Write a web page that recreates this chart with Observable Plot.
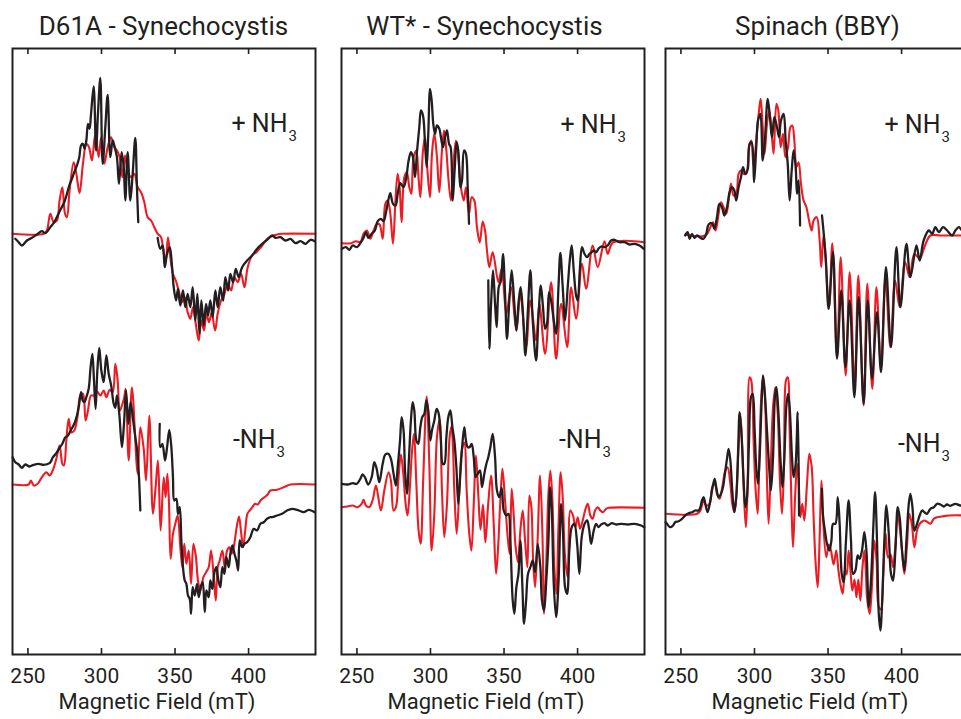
<!DOCTYPE html>
<html><head><meta charset="utf-8">
<script src="https://cdn.jsdelivr.net/npm/d3@7"></script>
<script src="https://cdn.jsdelivr.net/npm/@observablehq/plot@0.6"></script>
<style>
html,body{margin:0;padding:0;background:#fff;overflow:hidden;}
#wrap{position:relative;width:961px;height:719px;overflow:hidden;font-family:Roboto,"Open Sans",sans-serif;color:#231f20;}
.panel{position:absolute;top:0;width:323px;height:719px;}
.title{position:absolute;top:13px;left:0;right:0;text-align:center;font-size:26px;line-height:26px;white-space:nowrap;}
.panel svg{position:absolute;left:0;top:40px;}
</style></head><body><div id="wrap"></div>
<script>
// ---------- text ----------
const panelTitles = ["D61A - Synechocystis", "WT* - Synechocystis", "Spinach (BBY)"];
const conditionLabels = ["+ NH", "-NH"];
const subscriptLabel = "3";
const axisLabel = "Magnetic Field (mT)";
const fieldTicks = [250, 300, 350, 400];
const fieldDomain = [239.5, 445.5];
const intensityDomain = [0, 606];

// ---------- data: [field (mT), intensity (a.u., offset stacked)] ; null = gap ----------
const d61aPlusExp = [[241.4,415.7],[243.7,412.3],[245.9,409],[249.3,414],[252.7,416.7],[256.1,420],[259.5,423.3],[261.8,421.3],[265.2,427.3],[267.9,432.3],[270.2,439],[272.4,445.7],[274.7,452.3],[276.5,460.7],[278.1,469],[279.9,475.7],[281.5,482.3],[283.3,489],[284.9,497.3],[286.1,509],[287.4,510.7],[288.5,505.7],[289.7,514],[290.8,530.7],[291.9,525.7],[292.9,540.7],[294.7,568],[296.3,504],[297.6,540.7],[299.2,576.7],[300.8,490.7],[302.6,527.3],[304.2,559.7],[306,497.3],[307.6,514],[309,507.3],[310.5,497.3],[311.9,470.7],[313.7,502.3],[315.1,487.3],[316.2,454],[317.8,502.3],[319.6,454],[321.2,480.7],[323,516.7],[324.1,467.3],[325,432.3],[331,null],[338.2,416.7],[340,405.7],[341.6,409],[343,387.3],[344.6,400.7],[346.4,407.3],[348,387.3],[349.1,367.3],[350.7,354],[352,365.7],[353.6,349],[355.4,364],[357,347.3],[358.6,360.7],[360.4,347.3],[362,367.3],[363.8,334],[365.2,360.7],[366.6,320.7],[367.9,354],[369.5,329],[371.1,350.7],[372.4,339],[374,354],[375.6,337.3],[377.4,364],[379,347.3],[380.8,367.3],[382.7,354],[384.2,377.3],[386.1,364],[387.6,380.7],[389.5,372.3],[391.3,385.7],[393.3,377.3],[395.6,387.3],[399,394],[402.4,399],[405.8,405.7],[409.2,410.7],[412.6,414.7],[416,419],[418.3,416.7],[421.7,417.3],[425.1,414],[428.5,415.7],[431.9,411.3],[435.3,413.3],[438.7,410.7],[442.1,414.7],[445,413.3]];
const d61aPlusSim = [[239.6,420.7],[260.7,420.7],[262.9,424],[265.2,440.7],[267.5,432.3],[269.7,434],[271.5,454],[273.4,467.3],[275.2,440.7],[276.5,437.3],[278.3,464],[281.1,492.3],[282.9,480.7],[285.1,461.3],[287.4,490.7],[289.7,510.7],[291.5,507.3],[293.5,494],[295.8,520.7],[298.1,497.3],[299.7,517.3],[301.9,490.7],[304.2,507.3],[306.5,517.3],[308.7,507.3],[310.5,504],[312.4,497.3],[314.2,477.3],[316,499],[317.8,484],[320.1,477.3],[322.3,480.7],[324.6,467.3],[326.9,462.3],[329.1,452.3],[331.4,437.3],[333.7,434],[335.9,427.3],[338.2,420.7],[340.5,417.3],[342.3,400.7],[343.7,394],[345.2,417.3],[346.8,397.3],[348.6,380.7],[350.5,374],[352.5,364],[354.8,352.3],[356.6,357.3],[358.6,342.3],[360.4,335.7],[362.2,347.3],[364.1,330.7],[366.1,314],[367.9,334],[369.7,324],[371.3,340.7],[373.1,332.3],[374.9,342.3],[377.2,324],[379,340.7],[381.3,354],[383.6,360.7],[385.8,370.7],[388.1,364],[390.4,377.3],[392.6,372.3],[394.9,380.7],[397.2,367.3],[399.4,387.3],[402.4,399],[405.3,402.3],[408.5,407.3],[412.1,414.7],[415.3,418],[419.4,420],[422.8,420.7],[445.4,420.7]];
const d61aMinusExp = [[239.6,197.3],[241.4,192.3],[243.7,190],[245.9,186.7],[248.2,190],[251.1,188],[253.9,189.7],[257.3,190.7],[260.7,189.7],[264.7,191.3],[267,197.3],[269.3,201.3],[271.5,206.7],[273.4,210.7],[275.2,216.7],[277.2,219],[279.3,224.7],[281.5,230.7],[283.3,239],[284.7,249],[286.1,262.3],[287.2,254],[288.3,252.3],[289.7,257.3],[291.3,265.7],[292.6,287.3],[293.8,300.7],[294.9,274],[296,245.7],[297.2,284],[298.5,306.7],[299.9,284],[301.5,272.3],[303.3,299],[304.9,280.7],[306.7,268],[308.3,250.7],[309.4,246.7],[310.5,259],[312.1,240.7],[313.9,207.3],[315.3,230.7],[316.7,264],[318.3,230.7],[319.8,252.3],[321.4,235.7],[323,217.3],[324.4,202.3],[325.5,177.3],[326.4,144],[333,null],[339.6,230.7],[340,207.3],[341.4,210.7],[343.2,194],[344.6,207.3],[346.1,224.7],[347.5,207.3],[348.6,177.3],[349.5,154],[350.9,155.7],[352,140.7],[353.2,147.3],[354.3,114],[355.4,87.3],[356.6,74],[357.7,70.7],[358.8,59],[360,55.7],[360.9,40.7],[362,67.3],[363.4,59],[365,70.7],[366.1,57.3],[367.7,69],[368.8,72.3],[370.2,42.3],[371.3,64],[372.9,57.3],[374,74],[375.4,65.7],[376.8,82.3],[378.1,87.3],[379.5,74],[380.8,67.3],[382.2,87.3],[383.6,80.7],[384.9,97.3],[386.5,87.3],[387.6,100.7],[389,109],[390.4,100.7],[391.7,94],[392.9,84],[394,114],[395.6,107.3],[397.2,110.7],[399,112.3],[401.2,117.3],[403.5,125.7],[405.8,124],[408,130.7],[410.3,132.3],[412.6,135.7],[414.8,137.3],[416,137.3],[419.4,139],[422.8,140.7],[426.2,144],[429.6,145.7],[434.1,144],[437.5,142.3],[440.9,144.7],[445,142.3]];
const d61aMinusSim = [[239.6,170],[250.5,170],[252,174],[253.9,169],[256.6,170.7],[259.5,177.3],[262.5,182.3],[264.7,179],[267,184.7],[269.3,195.7],[271.5,209],[273.4,190.7],[274.5,189],[276.1,214],[277.7,235.7],[279.5,222.3],[281.5,224],[283.8,239],[285.6,259],[287.4,260.7],[289.2,234],[290.8,244],[292.9,259],[295.1,259],[296.9,263.3],[299.2,259],[301.5,264],[303.3,257.3],[305.6,264.7],[307.6,262.3],[309.4,290.7],[311,274],[312.4,244],[313.9,249],[315.5,257.3],[316.4,265.7],[318.5,194],[320.7,267.3],[324.6,180.7],[326.4,227.3],[328.7,205.7],[330.3,174],[332.5,239],[335,140.7],[336.8,167.3],[338.4,194],[340.2,124],[342.3,177.3],[343.6,157.3],[344.8,180.7],[345.9,150.7],[347,95.7],[348.6,120.7],[350.2,130.7],[351.8,139],[353.6,107.3],[355,87.3],[356.3,110.7],[357.7,90.7],[359.3,104],[360.9,70.7],[362.5,110.7],[364.1,99],[365.6,74],[367.2,64],[369.3,77.3],[371.1,82.3],[372.9,87.3],[374.5,104],[376.3,77.3],[377.7,54],[379,87.3],[380.4,94],[382.2,104],[383.8,87.3],[385.4,104],[387,107.3],[388.5,100.7],[390.1,109],[391.9,127.3],[393.5,138],[394.9,122.3],[396.3,107.3],[397.6,122.3],[399.2,140.7],[400.8,144],[402.6,147.3],[404.4,150.7],[406.2,150],[408.5,154.7],[410.8,157.3],[413,160],[414.8,164],[419.4,164.7],[423.9,167.3],[428.5,170],[445.4,170]];

const wtPlusExp = [[239.8,405.7],[242.5,407.3],[244.8,404.7],[247.1,409],[250,407.3],[252.3,411.3],[254.5,416.7],[256.1,422.3],[257.7,416.7],[260,420.7],[262.2,424],[264.1,433.3],[266.3,435.7],[268.1,433.3],[270,444],[271.3,454],[272.7,461.3],[274.5,450.7],[276.3,449],[277.7,460.7],[279.5,471.3],[281.7,467.3],[283.6,477.3],[285.1,494],[286.7,502.3],[288.1,497.3],[289.5,477.3],[290.8,502.3],[292.4,527.3],[293.5,544],[294.9,539],[296.3,510.7],[297.4,487.3],[298.5,520.7],[299.7,565.7],[300.8,554],[301.9,530.7],[303.1,520.7],[304.4,529],[306,525.7],[307.1,517.3],[308.5,507.3],[309.9,517.3],[311.2,524],[312.6,510.7],[313.7,507.3],[315.1,454],[316.4,484],[317.8,512.3],[318.9,504],[320.3,467.3],[321.4,474],[322.8,504],[324.1,500.7],[325.3,467.3],[326.2,430.7],[333,null],[339.3,374],[340,305.7],[341.2,350.7],[342.5,384],[343.9,350.7],[345,327.3],[346.4,367.3],[347.9,374],[349.3,400.7],[350.7,360.7],[352,315.7],[353.6,354],[355.2,384],[357,350.7],[358.4,324],[360,354],[361.3,367.3],[362.9,340.7],[364.5,299],[366.1,340.7],[367.9,384],[369.5,334],[371.8,294],[373.4,337.3],[375,369],[376.5,347.3],[377.9,325.7],[379.2,330.7],[380.6,362.3],[382.2,352.3],[383.8,334],[385.4,320.7],[387,367.3],[388.3,401.7],[389.9,367.3],[391.5,334],[393.3,367.3],[394.7,394],[396,409],[397.4,384],[399,359],[400.1,354],[401.5,384],[403,407.3],[404.7,400.7],[406.5,397.3],[408.1,400.7],[409.6,402.3],[411,404],[412.6,402.3],[414.2,405.7],[416,408],[418.3,407.3],[420.5,409],[422.8,414],[425.1,414.7],[428.5,412.3],[431.9,412.3],[435.3,410],[438.7,410.7],[442.1,409],[445,405.7]];
const wtPlusSim = [[239.8,411.3],[245.9,411.3],[249.3,413.3],[252.3,412.3],[254.5,420.7],[256.8,424],[259.1,415.7],[261.3,424],[263.6,430.7],[265.4,430],[267.5,415.7],[269.3,450.7],[270.9,454],[272.7,440.7],[274.5,410.7],[276.3,457.3],[277.7,480.7],[279,467.3],[280.4,432.3],[282.2,477.3],[283.9,482.3],[285.6,467.3],[287,460.7],[288.5,497.3],[290.4,504],[291.7,480.7],[293.1,457.3],[294.9,504],[296.3,517.3],[298.1,480.7],[299.7,457.3],[301,500.7],[302.6,520.7],[304.4,497.3],[306,462.3],[307.8,504],[309.2,524],[310.8,504],[312.1,477.3],[313.9,454],[315.8,494],[317.3,514],[318.9,497.3],[320.7,467.3],[322.6,454],[324.1,467.3],[326.2,440.7],[328,457.3],[329.8,454],[331.6,427.3],[333.5,412],[335.5,433],[337.1,424],[338.4,404],[340,387.3],[342.3,402.3],[346.2,372.3],[348.4,385.7],[351.6,340.7],[354.8,367.3],[358.4,324],[361.1,360.7],[365,307.3],[367.9,354],[371.8,314],[374,350.7],[377.9,300.7],[382,372.3],[385.4,295.7],[388.8,350.7],[392.9,307.3],[395.6,367.3],[399,335.7],[403,390.7],[405.8,365.7],[410.3,409],[413.7,387.3],[418.3,413.3],[420.5,400.7],[424,412],[445.4,412.3]];
const wtMinusExp = [[239.8,170.7],[243.7,170],[247.1,171.3],[250,170.7],[252.3,175.7],[253.9,180],[255.4,177.3],[257.7,170],[260,177.3],[261.8,192.3],[263.4,185.7],[265.2,172.3],[267.5,190.7],[269.3,200],[271.3,200.7],[273.1,195.7],[274.9,180.7],[276.5,169],[277.7,187.3],[279.3,214],[280.4,237.3],[281.7,224],[282.7,184],[284,160.7],[285.4,197.3],[286.7,234],[287.9,252.3],[289,244],[290.4,214],[291.7,210.7],[293.1,227.3],[294.4,237.3],[295.8,240.7],[297.2,254],[298.5,244],[299.9,214],[301,224],[302.6,234],[304.2,245.7],[305.6,240.7],[307.1,214],[308.3,190.7],[309.4,190.7],[310.8,217.3],[312.1,237.3],[313.5,244],[314.9,227.3],[316.2,214],[317.6,187.3],[318.9,150.7],[320.3,180.7],[321.7,210.7],[323,227.3],[324.1,214],[325.3,207.3],[326.6,207.3],[328,210.7],[329.4,197.3],[330.7,177.3],[332.1,180.7],[333.7,184],[335,167.3],[336.6,180.7],[338,190.7],[339.3,197.3],[340.7,207.3],[342.3,220.7],[343.9,197.3],[345.2,164],[346.8,157.3],[348.4,166.7],[349.8,144],[351.6,139],[353,140.7],[354.3,114],[355.9,54],[357,40.7],[358.4,67.3],[359.8,80.7],[361.1,114],[362.5,67.3],[363.6,30.7],[365,54],[366.3,80.7],[367.9,87.3],[369.5,94],[371.1,82.3],[372.9,110.7],[374.7,87.3],[375.8,54],[377.2,44],[378.6,70.7],[380.2,114],[381.3,167.3],[382.4,147.3],[383.8,70.7],[385.4,37.3],[387,70.7],[388.8,150.7],[390.1,120.7],[391.5,67.3],[392.9,60.7],[394.4,104],[396,127.3],[397.8,130.7],[399.7,110.7],[401.2,80.7],[402.8,117.3],[404.6,130],[406.5,134],[407.8,125.7],[409.2,110.7],[411,124],[412.6,130.7],[414.2,127.3],[416,130],[418.3,131.3],[420.5,129],[423.2,131.3],[426.2,130],[429.6,130.7],[434.1,130],[438.7,130.7],[443.2,129],[445.4,127.3]];
const wtMinusSim = [[239.6,147.3],[243.6,148],[247,149],[250.4,147.3],[253.2,150.7],[254.5,154.7],[256.1,149],[258.4,147.3],[260.6,154],[262.9,169],[264.5,157.3],[266.3,144],[268.6,164],[271.5,182.3],[273.1,174],[274.9,144],[276.5,147.3],[278.1,174],[279.9,200],[281.5,180.7],[283.1,150.7],[284.4,139],[286,167.3],[287.4,202.3],[288.8,220.7],[290.3,174],[291.9,124],[293.3,110.7],[295.1,177.3],[297.4,258],[299.2,190.7],[300.8,104],[302.6,140.7],[304.4,217.3],[306.2,235],[307.8,164],[309.4,117.3],[311.2,150.7],[313,217.3],[314.2,228],[315.2,210],[316.2,164],[317.8,120.7],[319.6,164],[321.4,205],[323,212],[324.6,164],[326.2,124],[327.8,104],[329.4,150],[330.9,199],[332.5,160],[334,125],[335.7,150],[337.3,112],[339.2,150],[341.2,179],[343,130],[344.6,80.7],[346.1,110.7],[347.5,154],[348.9,185.7],[350.7,154],[352.5,117.3],[353.8,100.7],[355.2,165.7],[356.6,139],[357.9,107.3],[359.5,92.3],[361.1,124],[362.7,144],[364.3,114],[365.9,87.3],[367.2,159],[368.6,147.3],[369.7,97.3],[371.1,67.3],[372.9,117.3],[374.5,179],[376.1,120.7],[377.2,40.7],[378.6,87.3],[380.2,160.7],[381.5,184],[382.9,154],[384.2,87.3],[385.6,60.7],[387,127.3],[388.5,182.3],[389.9,157.3],[391.5,97.3],[393.3,77.3],[395.1,144],[396.9,139],[398.5,127.3],[400.1,137.3],[401.7,125.7],[403.5,134],[405.1,144],[406.9,150.7],[408.7,139],[410.3,135.7],[411.9,144],[413.7,147.3],[415.5,144],[417.3,142.3],[419.4,145.7],[421.6,146.7],[445.4,146.7]];

const bbyPlusExp = [[252.9,419],[254.5,422.3],[255.9,415.7],[257.5,420.7],[259.1,416.7],[260.9,419],[263.2,416.7],[265.4,415.7],[267.2,420.7],[268.8,430],[271.1,431.3],[272.7,425.7],[274.5,437.3],[276.1,450.7],[277.9,447.3],[279.5,439],[281.3,447.3],[283.1,462.3],[284.7,467.3],[286.3,464],[287.6,454],[289.2,467.3],[290.8,477.3],[292.2,487.3],[293.8,480.7],[295.4,485.3],[296.7,510.7],[298.1,512.3],[299.7,472.3],[301.2,507.3],[302.4,534],[304,540.7],[305.6,494],[306.9,510.7],[309,555.7],[310.5,537.3],[311.9,517.3],[313.5,537.3],[315.3,527.3],[316.7,517.3],[318,534],[319.8,540.7],[321.2,514],[322.6,490.7],[323.9,454],[325.3,484],[326.6,504],[328,487.3],[328.9,460.7],[330,474],[331,429],[338,null],[345.9,439],[347.1,420.7],[348.5,395],[350.4,345.7],[353.4,402.3],[356.1,295.7],[359,364],[361.8,287.3],[364.7,354],[367.9,257.3],[370.8,357.3],[374.2,250.7],[377,354],[379.9,275.7],[383.3,342.3],[386,282.3],[389.4,387.3],[392.8,307.3],[396.5,407.3],[399.2,347.3],[403.3,410.7],[406,377.3],[410.1,409],[412.3,394],[415,414],[418.5,424],[420.8,420.7],[423,427.3],[425.3,422.3],[428.2,427.3],[431,424],[434.4,419],[436.6,424],[438.9,427.3],[441.2,424],[443.4,422.3],[445.4,422]];
const bbyPlusSim = [[252.9,420],[266.6,419],[270,427.3],[271.8,432.3],[273.6,424],[275.6,440.7],[277.2,452.3],[279,447.3],[280.8,440.7],[282.7,457.3],[284,470.7],[285.8,459],[287.6,460.7],[289.2,480.7],[290.8,484],[292.6,480.7],[294.4,480.7],[296.3,507.3],[297.8,514],[299.4,487.3],[301.2,514],[303.1,544],[304.2,555.7],[305.6,527.3],[306.9,500.7],[308.5,530.7],[310.1,544],[311.7,520.7],[313,500.7],[314.9,550.7],[316.2,544],[317.8,507.3],[319.4,520.7],[321,497.3],[322.8,507.3],[324.4,527.3],[325.7,529],[327.1,514],[328.5,487.3],[330,492.3],[331.6,470.7],[333.4,454],[335.3,447.3],[337.1,434],[338.9,424],[340.2,434],[342.3,437.3],[344.3,414],[345.4,387.3],[347,419],[350.7,347.3],[352.9,411.3],[356.1,297.3],[358.6,397.3],[362,279],[364.7,382.3],[368.1,267.3],[370.6,379],[374.2,249],[376.7,370.7],[380.1,265.7],[382.9,367.3],[386,287.3],[389,375.7],[392.4,307.3],[395.6,374],[398.7,347.3],[402.4,392.3],[405.5,377.3],[408.7,400.7],[412.3,395.7],[415.5,407.3],[419.6,419],[426.4,419],[445.4,419]];
const bbyMinusExp = [[239.6,132.3],[240.5,130.7],[242.7,127.3],[244.6,129],[246.1,132.3],[248.4,133.3],[250.7,135.7],[252.9,139],[255.2,141.3],[257.5,142.3],[259.8,144],[262,144],[263.2,147.3],[264.3,154],[265.4,157.3],[266.8,149],[268.1,142.3],[270,154],[271.3,165.7],[272.9,175.7],[274,167.3],[275.6,157.3],[277.2,160.7],[278.6,167.3],[279.9,180.7],[281.3,195.7],[282.4,205.7],[283.6,194],[284.9,164],[286.3,142.3],[287.6,157.3],[288.8,200.7],[289.9,242.3],[291.3,217.3],[292.6,174],[293.8,147.3],[294.9,157.3],[296.3,214],[297.6,257.3],[298.8,260.7],[300.1,224],[301.2,187.3],[302.4,170.7],[303.5,197.3],[304.9,254],[305.8,279],[306.9,264],[308.5,224],[310.1,184],[311.2,164],[312.6,197.3],[313.9,257.3],[314.9,267.3],[316.2,244],[317.6,197.3],[319,167.3],[320.3,197.3],[321.7,249],[322.8,260.7],[323.9,247.3],[325.5,197.3],[326.6,177.3],[328,190.7],[329.4,242.3],[330.3,139],[338,null],[345.9,165.7],[346.6,139],[348.2,120.7],[349.3,110.7],[350.9,104],[352.3,114],[353.4,130.7],[355,130.7],[356.6,157.3],[357.9,130.7],[359.3,80.7],[360.6,72.3],[362.2,114],[364,154],[365.6,114],[367,80.7],[368.6,84],[370.2,99],[371.5,95.7],[373.1,104],[374.7,122.3],[376.1,104],[377.7,47.3],[379.2,74],[380.6,120.7],[382,162.3],[383.3,114],[384.5,40.7],[385.6,24],[387,60.7],[388.3,114],[389.7,149],[391.3,120.7],[392.8,80.7],[394.2,74],[395.8,104],[397.4,147.3],[398.7,137.3],[400.3,104],[401.9,84],[403.3,114],[404.9,150.7],[406,160.7],[407.4,147.3],[408.7,124],[410.5,130.7],[412.3,139],[413.9,144],[415.5,142.3],[417.3,140.7],[419.6,145.7],[421.9,147.3],[424.1,150.7],[426.4,150],[428.7,148],[430.9,150],[433.2,148.7],[436.6,150.7],[440,149],[445.4,149]];
const bbyMinusSim = [[239.6,140.7],[260.9,140.7],[263.2,144],[265.4,154],[267.2,149],[269.5,150.7],[271.3,167.3],[273.1,170.7],[274.5,160.7],[276.3,155.7],[278.1,167.3],[280.2,184],[281.7,187.3],[283.6,170.7],[284.9,150.7],[286.3,142.3],[287.6,157.3],[289.2,207.3],[290.4,240.7],[291.7,204],[293.1,150.7],[294.2,127.3],[295.4,174],[296.7,277.3],[297.8,274],[299.4,214],[300.8,164],[302.2,140.7],[303.3,197.3],[304.6,257.3],[305.8,277.3],[307.1,257.3],[308.5,174],[309.6,130.7],[311,184],[312.6,247.3],[314.2,267.3],[315.8,240.7],[317.3,174],[318.7,140.7],[320.1,190.7],[321.4,274],[322.6,277.3],[323.9,224],[325.3,140.7],[326.2,107.3],[327.6,157.3],[329,190.7],[330,174],[331.2,137.3],[332.5,150.7],[333.9,134],[335.7,170.7],[337.3,200.7],[338.9,187.3],[340.2,137.3],[341.6,90.7],[343,67.3],[344.3,117.3],[345.5,174],[346.6,137.3],[348.8,97.3],[350.5,110],[352,104],[353.8,90],[355.6,104],[357,85],[358.4,70.7],[360,60.7],[361.5,85],[362.7,80],[364,104],[365.2,85],[366.5,64],[368,75],[369.3,57.3],[370.6,75],[372,54],[373.3,85],[374.7,104],[375.8,80],[376.5,57.3],[378.3,40.7],[379.8,67],[381.5,114],[383,94],[384.5,47.3],[386,45],[387.5,80],[389.2,120.7],[390.8,97],[392.5,100],[394.2,87.3],[395.8,110],[397.4,140.7],[398.8,127],[400.3,104],[401.9,80.7],[403.6,107],[405.3,140.7],[407,130],[408.7,107.3],[410.5,124],[412.3,130.7],[414,133],[415.5,134],[417.5,132.5],[419.6,130.7],[421.9,135.7],[424.1,137.3],[427.5,138],[432.1,139],[445.4,139]];

// ---------- layout / style ----------
const INK = "#231f20", RED = "#ed1c24";
const panels = [
  {title: panelTitles[0], left: 2,   titleDx: 0,  sim: [d61aPlusSim, d61aMinusSim], exp: [d61aPlusExp, d61aMinusExp], lab: [{dx: -28, dy: 83}, {dx: -40, dy: 399}]},
  {title: panelTitles[1], left: 331, titleDx: -8, sim: [wtPlusSim, wtMinusSim],     exp: [wtPlusExp, wtMinusExp],     lab: [{dx: -28, dy: 84}, {dx: -43, dy: 399}]},
  {title: panelTitles[2], left: 655, titleDx: 1,  sim: [bbyPlusSim, bbyMinusSim],   exp: [bbyPlusExp, bbyMinusExp],   lab: [{dx: -28, dy: 84}, {dx: -28, dy: 403}]}
];
const W = 303, H = 606, mL = 10, mR = 10, mT = 8, mB = 65;
const toPts = arr => arr.map(([x, y]) => ({x, y: y == null ? NaN : y}));

const wrap = document.getElementById("wrap");
panels.forEach(p => {
  const div = document.createElement("div");
  div.className = "panel";
  div.style.left = p.left + "px";
  const t = document.createElement("div");
  t.className = "title";
  t.style.transform = `translateX(${p.titleDx}px)`;
  t.textContent = p.title;
  div.appendChild(t);

  const marks = [];
  p.sim.forEach(s => marks.push(Plot.line(toPts(s), {x: "x", y: "y", curve: "catmull-rom", stroke: RED, strokeWidth: 2.1, strokeLinejoin: "round"})));
  p.exp.forEach(s => marks.push(Plot.line(toPts(s), {x: "x", y: "y", curve: "catmull-rom", stroke: INK, strokeWidth: 2.3, strokeLinejoin: "round"})));
  marks.push(
    Plot.frame({stroke: INK, strokeWidth: 2}),
    Plot.ruleX(fieldTicks, {x: d => d, stroke: INK, strokeWidth: 1.6, insetTop: H - 6}),
    Plot.ruleX(fieldTicks, {x: d => d, stroke: INK, strokeWidth: 1.6, insetBottom: H - 6}),
    Plot.axisX(fieldTicks, {anchor: "bottom", tickSize: 0, tickPadding: 14, fontSize: 21, label: null}),
    Plot.text([axisLabel], {text: d => d, frameAnchor: "bottom", lineAnchor: "middle", dy: 47, dx: -7, fontSize: 22})
  );
  conditionLabels.forEach((lab, k) => {
    const o = p.lab[k];
    marks.push(
      Plot.text([lab], {text: d => d, frameAnchor: "top-right", textAnchor: "end", lineAnchor: "bottom", dx: o.dx, dy: o.dy, fontSize: 25}),
      Plot.text([subscriptLabel], {text: d => d, frameAnchor: "top-right", textAnchor: "start", lineAnchor: "bottom", dx: o.dx + 1, dy: o.dy + 9, fontSize: 15})
    );
  });

  const chart = Plot.plot({
    width: W + mL + mR, height: H + mT + mB,
    marginLeft: mL, marginRight: mR, marginTop: mT, marginBottom: mB,
    x: {domain: fieldDomain},
    y: {domain: intensityDomain, axis: null},
    style: {fontFamily: "Roboto, 'Open Sans', sans-serif", color: INK, background: "transparent", overflow: "visible"},
    marks
  });
  div.appendChild(chart);
  wrap.appendChild(div);
});
</script>
</body></html>
